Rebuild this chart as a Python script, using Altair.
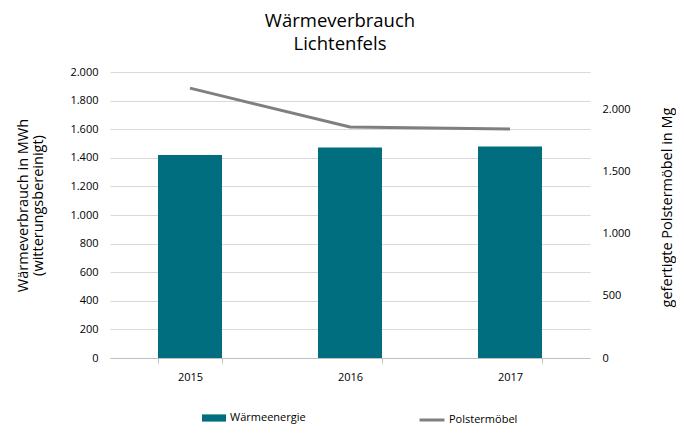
import altair as alt
import pandas as pd

years = ["2015", "2016", "2017"]
waerme = [1420, 1472, 1479]
polster = [2170, 1858, 1842]

df = pd.DataFrame({
    "Jahr": years,
    "Waerme": waerme,
    "Polster": polster,
    "s1": ["Wärmeenergie"] * 3,
    "s2": ["Polstermöbel"] * 3,
})

FONT = "Open Sans"
TEAL = "#006E7E"
GRAY = "#7F7F7F"
de_fmt = "replace(format(datum.value, ','), ',', '.')"

base = alt.Chart(df).encode(
    x=alt.X("Jahr:N", title=None,
            scale=alt.Scale(paddingInner=0.6, paddingOuter=0.3),
            axis=alt.Axis(labelAngle=0, tickBand="extent", domainColor="#BFBFBF",
                          tickColor="#BFBFBF", tickSize=5, labelPadding=8,
                          labelFontSize=11, labelColor="#000000", grid=False))
)

bars = base.mark_bar(color=TEAL).encode(
    y=alt.Y("Waerme:Q", title=["Wärmeverbrauch in MWh", "(witterungsbereinigt)"],
            scale=alt.Scale(domain=[0, 2000], nice=False),
            axis=alt.Axis(values=list(range(0, 2001, 200)), labelExpr=de_fmt,
                          grid=True, gridColor="#D9D9D9", ticks=False, domain=False,
                          labelPadding=12, labelFontSize=11,
                          titleFontSize=14.5, titleFontWeight="normal",
                          titleAngle=270, titleX=-87, titleY=133,
                          titleBaseline="middle", titleAlign="center", titleLineHeight=15,
                          labelColor="#000000", titleColor="#000000")),
    fill=alt.Fill("s1:N", scale=alt.Scale(range=[TEAL]),
                  legend=alt.Legend(title=None, orient="none", legendX=92, legendY=334,
                                    symbolType="M-1,-0.3L1,-0.3L1,0.3L-1,0.3Z",
                                    symbolSize=576, symbolStrokeWidth=0,
                                    labelFontSize=11, labelOffset=4,
                                    labelColor="#000000")),
)

line = base.mark_line(color=GRAY, strokeWidth=3).encode(
    y=alt.Y("Polster:Q", title="gefertigte Polstermöbel in Mg",
            scale=alt.Scale(domain=[0, 2300], nice=False),
            axis=alt.Axis(orient="right", values=[0, 500, 1000, 1500, 2000],
                          labelExpr=de_fmt, grid=False, ticks=False, domain=False,
                          labelPadding=12, labelFontSize=11,
                          titleFontSize=14.5, titleFontWeight="normal",
                          titleAngle=270, titleX=77, titleY=135,
                          titleBaseline="middle", titleAlign="center",
                          labelColor="#000000", titleColor="#000000")),
    stroke=alt.Stroke("s2:N", scale=alt.Scale(range=[GRAY]),
                      legend=alt.Legend(title=None, orient="none", legendX=308, legendY=334,
                                        symbolType="stroke", symbolSize=625,
                                        symbolStrokeWidth=3, labelFontSize=11,
                                        labelOffset=3, labelColor="#000000")),
)

chart = alt.layer(bars, line).resolve_scale(y="independent", fill="independent",
                                            stroke="independent").properties(
    width=480, height=286,
    title=alt.Title(["Wärmeverbrauch", "Lichtenfels"], fontSize=18.5, fontWeight="normal",
                    font=FONT, anchor="middle", dx=-10, offset=13, lineHeight=23,
                    color="#000000"),
    autosize=alt.AutoSizeParams(type="none"),
    padding={"left": 102, "top": 64, "right": 86, "bottom": 68},
).configure(font=FONT).configure_view(stroke=None)

chart.save("out.html", embed_options={"renderer": "svg", "actions": False})
